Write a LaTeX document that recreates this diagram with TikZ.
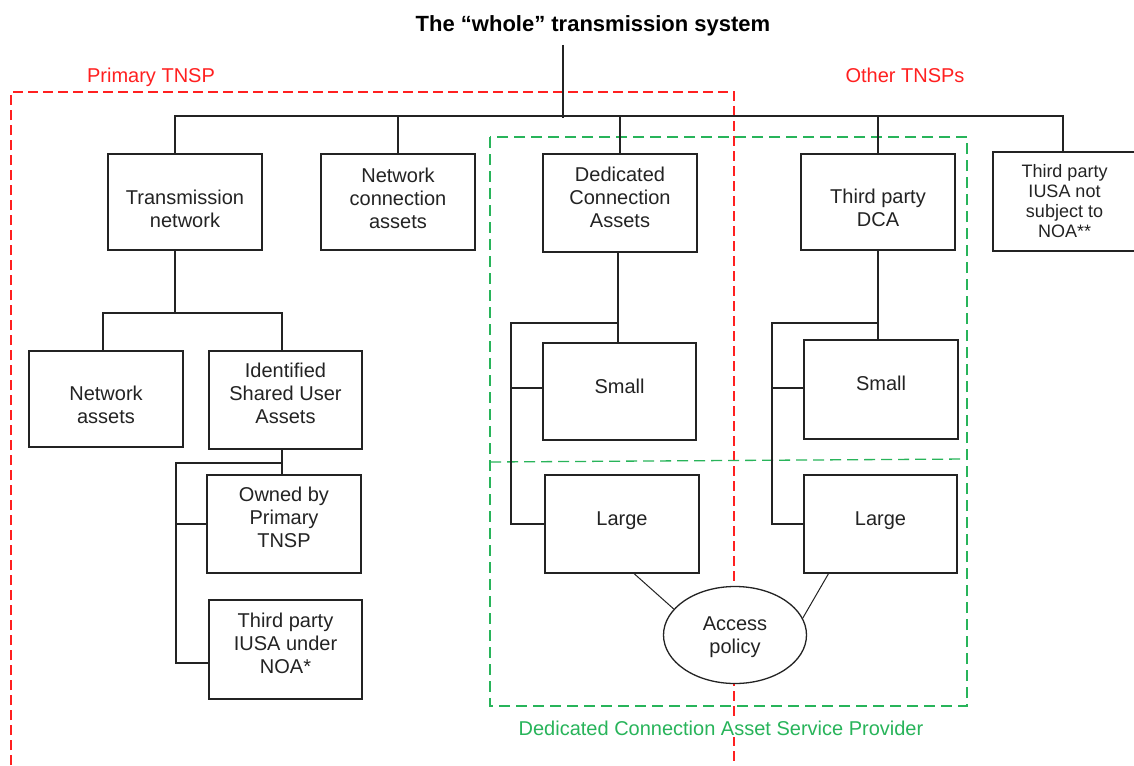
\documentclass[tikz,border=0pt]{standalone}
\usepackage{fontspec}
\setmainfont{Liberation Sans}
\usetikzlibrary{calc,shapes.geometric}
\definecolor{tnspred}{RGB}{255,32,32}
\definecolor{dcagreen}{RGB}{40,180,90}
\definecolor{ink}{RGB}{35,35,35}
% box with its caption: name, centre, width, height, caption shift, caption
\newcommand\assetbox[6]{%
  \node[box,minimum width=#3,minimum height=#4] (#1) at (#2) {};
  \node[boxtext] (#1-text) at ([yshift=#5]#1.center) {#6};}
\begin{document}
\begin{tikzpicture}[x=1pt,y=-1pt,
  box/.style={draw=ink,line width=1.3pt,fill=white,inner sep=0pt},
  boxtext/.style={inner sep=0pt,align=center,text=ink,font=\fontsize{20}{23}\selectfont},
  smalltext/.style={boxtext,font=\fontsize{18}{20}\selectfont},
  wire/.style={draw=ink,line width=1.3pt},
  thinwire/.style={draw=ink,line width=1pt},
  reddash/.style={draw=tnspred,line width=1.3pt,dash pattern=on 10pt off 5pt},
  greendash/.style={draw=dcagreen,line width=1.3pt,dash pattern=on 11pt off 6pt},
  region/.style={font=\fontsize{20}{23}\selectfont,inner sep=2pt,anchor=base}]

\useasboundingbox[fill=white] (0,0) rectangle (1134,765);

% ownership regions
\draw[reddash] (11,780) -- (11,92) -- (734,92) -- (734,780);
\draw[greendash] (490,137) rectangle (967,706);
\draw[greendash] (490,462) -- (967,459);

% region labels and title
\node[font=\bfseries\fontsize{22}{26}\selectfont,text=black,anchor=base] (title) at (593,32) {The “whole” transmission system};
\node[region,text=tnspred] (lprimary) at (151,83) {Primary TNSP};
\node[region,text=tnspred] (lother) at (905,83) {Other TNSPs};
\node[region,text=dcagreen,fill=white] (lprovider) at (721,735) {Dedicated Connection Asset Service Provider};

% first level
\assetbox{tn}{185,202}{154pt}{96pt}{-6.5pt}{Transmission\\network}
\assetbox{ntc}{398,202}{154pt}{96pt}{4pt}{Network\\connection\\assets}
\assetbox{dca}{620,203}{154pt}{98pt}{6pt}{Dedicated\\Connection\\Assets}
\assetbox{tdca}{878,202}{154pt}{96pt}{-6pt}{Third party\\DCA}
\node[box,minimum width=143pt,minimum height=99pt] (iusa) at (1064.5,201.5) {};
\node[smalltext] (iusa-text) at (iusa.center) {Third party\\IUSA not\\subject to\\NOA**};

% transmission network branch
\assetbox{na}{106,399}{154pt}{96pt}{-5.5pt}{Network\\assets}
\assetbox{isua}{285.5,400}{153pt}{98pt}{7pt}{Identified\\Shared User\\Assets}
\assetbox{own}{284,524}{154pt}{98pt}{6.5pt}{Owned by\\Primary\\TNSP}
\assetbox{noa}{285.5,649.5}{153pt}{99pt}{6.5pt}{Third party\\IUSA under\\NOA*}

% dedicated connection assets branches
\assetbox{s1}{619.5,391.5}{153pt}{97pt}{5.5pt}{Small}
\assetbox{l1}{622,524}{154pt}{98pt}{3.5pt}{Large}
\assetbox{s2}{881,389.5}{154pt}{99pt}{6.5pt}{Small}
\assetbox{l2}{880.5,524}{153pt}{98pt}{3.5pt}{Large}
\node[box,ellipse,minimum width=143pt,minimum height=97pt] (ap) at (735,635) {};
\node[boxtext] (ap-text) at ([yshift=-2pt]ap.center) {Access\\policy};

% top bus
\coordinate (top) at (563,45);
\coordinate (bar) at (563,116);
\draw[wire] (top) -- ([yshift=-2pt]bar);
\draw[wire] ([xshift=-10pt]tn.north) |- ([xshift=-1.5pt]iusa.north |- bar) -- ([xshift=-1.5pt]iusa.north);
\foreach \n in {ntc,dca,tdca} \draw[wire] (\n.north) -- (\n.north |- bar);

% transmission network tree
\coordinate (tnsplit) at (175,313);
\draw[wire] ([xshift=-10pt]tn.south) -- (tnsplit);
\draw[wire] ([xshift=-3pt]na.north) |- ([xshift=-3.5pt]isua.north |- tnsplit) -- ([xshift=-3.5pt]isua.north);

% shared user assets tree
\coordinate (isplit) at (176,463);
\draw[wire] ([xshift=-3.5pt]isua.south) -- ([xshift=-2pt]own.north);
\draw[wire] ([xshift=-3.5pt]isua.south |- isplit) -- (isplit) |- ([yshift=-13.5pt]noa.west);
\draw[wire] (own.west) -- (own.west -| isplit);

% dedicated connection assets tree
\coordinate (dsplit) at (511,323);
\draw[wire] ([xshift=-2pt]dca.south) -- ([xshift=-1.5pt]s1.north);
\draw[wire] ([xshift=-2pt]dca.south |- dsplit) -- (dsplit) |- (l1.west);
\draw[wire] ([yshift=3.5pt]s1.west) -- ([yshift=3.5pt]s1.west -| dsplit);

% third party DCA tree
\coordinate (tsplit) at (772,323);
\draw[wire] (tdca.south) -- (tdca.south |- s2.north);
\draw[wire] (tdca.south |- tsplit) -- (tsplit) |- (l2.west);
\draw[wire] ([yshift=1.5pt]s2.west) -- ([yshift=1.5pt]s2.west -| tsplit);

% access policy links
\draw[thinwire] ($(l1.south west)!0.578!(l1.south east)$) -- (ap.157);
\draw[thinwire] ($(l2.south west)!0.163!(l2.south east)$) -- (ap.14);
\end{tikzpicture}
\end{document}
